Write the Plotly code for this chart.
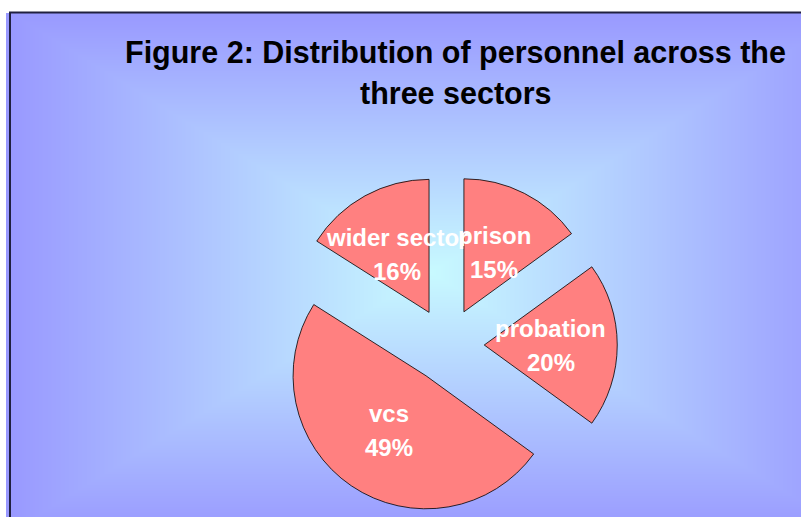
import base64
import struct
import zlib

import numpy as np
import plotly.graph_objects as go

# ---------------- data ----------------
labels = ["prison", "probation", "vcs", "wider sector"]
values = [15, 20, 49, 16]
pct_text = ["15%", "20%", "49%", "16%"]
title_lines = ["Figure 2: Distribution of personnel across the", "three sectors"]

# ---------------- layout constants (screen pixels) ----------------
W, H = 801, 517
PIE_CX, PIE_CY = 447.0, 345.0      # pixel centre of pie
PIE_R = 133.0                      # pixel radius of slices
PULL = 0.28                        # explode fraction
LABEL_R = PULL + 0.5               # label distance (fraction of radius)
LABEL_FONT = 24
LINE_SHIFT = 17
TITLE_FONT = 30.5

SLICE_COLOR = "#FF8080"
FONT = "Liberation Sans, Arial, sans-serif"


def px2paper(px, py):
    return px / W, 1 - py / H


# ---------------- gradient background (rectangular "from centre") -------------
gx0, gy0 = 6, 13
GW, GH = W - gx0, H - gy0
cx, cy, hx, hy = 430.0, 272.0, 420.0, 260.0
xs = np.arange(GW) + gx0 + 0.5
ys = np.arange(GH) + gy0 + 0.5
X, Y = np.meshgrid(xs, ys)
t = np.clip(np.maximum(np.abs(X - cx) / hx, np.abs(Y - cy) / hy), 0, 1)
c0 = np.array([200, 250, 255], dtype=float)
c1 = np.array([153, 153, 255], dtype=float)
img = (c0 + (c1 - c0) * t[..., None]).round().astype(np.uint8)
raw = b"".join(b"\x00" + img[r].tobytes() for r in range(GH))


def _chunk(tag, data):
    return (struct.pack(">I", len(data)) + tag + data
            + struct.pack(">I", zlib.crc32(tag + data) & 0xFFFFFFFF))


png = (b"\x89PNG\r\n\x1a\n"
       + _chunk(b"IHDR", struct.pack(">IIBBBBB", GW, GH, 8, 2, 0, 0, 0))
       + _chunk(b"IDAT", zlib.compress(raw, 9))
       + _chunk(b"IEND", b""))
bg_uri = "data:image/png;base64," + base64.b64encode(png).decode()

# ---------------- pie ----------------
side = 2 * PIE_R * (1 + PULL)
dx0, dy1 = px2paper(PIE_CX - side / 2, PIE_CY - side / 2)
dx1, dy0 = px2paper(PIE_CX + side / 2, PIE_CY + side / 2)

fig = go.Figure(go.Pie(
    labels=labels,
    values=values,
    sort=False,
    direction="clockwise",
    rotation=0,
    pull=[PULL] * len(values),
    marker=dict(colors=[SLICE_COLOR] * len(values),
                line=dict(color="#000000", width=0.8)),
    textinfo="none",
    hoverinfo="skip",
    showlegend=False,
    domain=dict(x=[dx0, dx1], y=[max(dy0, 0), dy1]),
))

# ---------------- labels computed from the values ----------------
annotations = []
total = float(sum(values))
cum = 0.0
for lab, val, pt in zip(labels, values, pct_text):
    mid = (cum + val / 2) / total * 2 * np.pi
    cum += val
    lx = PIE_CX + LABEL_R * PIE_R * np.sin(mid)
    ly = PIE_CY - LABEL_R * PIE_R * np.cos(mid)
    ax, ay = px2paper(lx, ly)
    for txt, shift in ((lab, LINE_SHIFT), (pt, -LINE_SHIFT)):
        annotations.append(dict(
            x=ax, y=ay, xref="paper", yref="paper", showarrow=False,
            text="<b>" + txt + "</b>", yshift=shift,
            xanchor="center", yanchor="middle",
            font=dict(family=FONT, size=LABEL_FONT, color="white"),
        ))

# ---------------- title ----------------
for txt, py in zip(title_lines, (53, 93)):
    tx, ty = px2paper(456, py)
    annotations.append(dict(
        x=tx, y=ty, xref="paper", yref="paper", showarrow=False,
        text="<b>" + txt + "</b>", xanchor="center", yanchor="middle",
        font=dict(family=FONT, size=TITLE_FONT, color="black"),
    ))

bx0, by1 = px2paper(gx0, gy0)
lx0, ly1 = px2paper(10, 12.5)
fig.update_layout(
    width=W, height=H,
    margin=dict(l=0, r=0, t=0, b=0),
    paper_bgcolor="white",
    plot_bgcolor="rgba(0,0,0,0)",
    images=[dict(source=bg_uri, xref="paper", yref="paper",
                 x=bx0, y=by1, sizex=1 - bx0 + 0.001, sizey=by1 + 0.001,
                 xanchor="left", yanchor="top", sizing="stretch",
                 layer="below")],
    shapes=[dict(type="rect", xref="paper", yref="paper",
                 x0=lx0, y0=-0.1, x1=1.1, y1=ly1,
                 line=dict(color="#202040", width=2), fillcolor="rgba(0,0,0,0)")],
    annotations=annotations,
)

fig.write_html(
    "out.html",
    config={"displayModeBar": False, "staticPlot": True},
    post_script="document.body.style.margin='0';document.body.style.overflow='hidden';",
)
